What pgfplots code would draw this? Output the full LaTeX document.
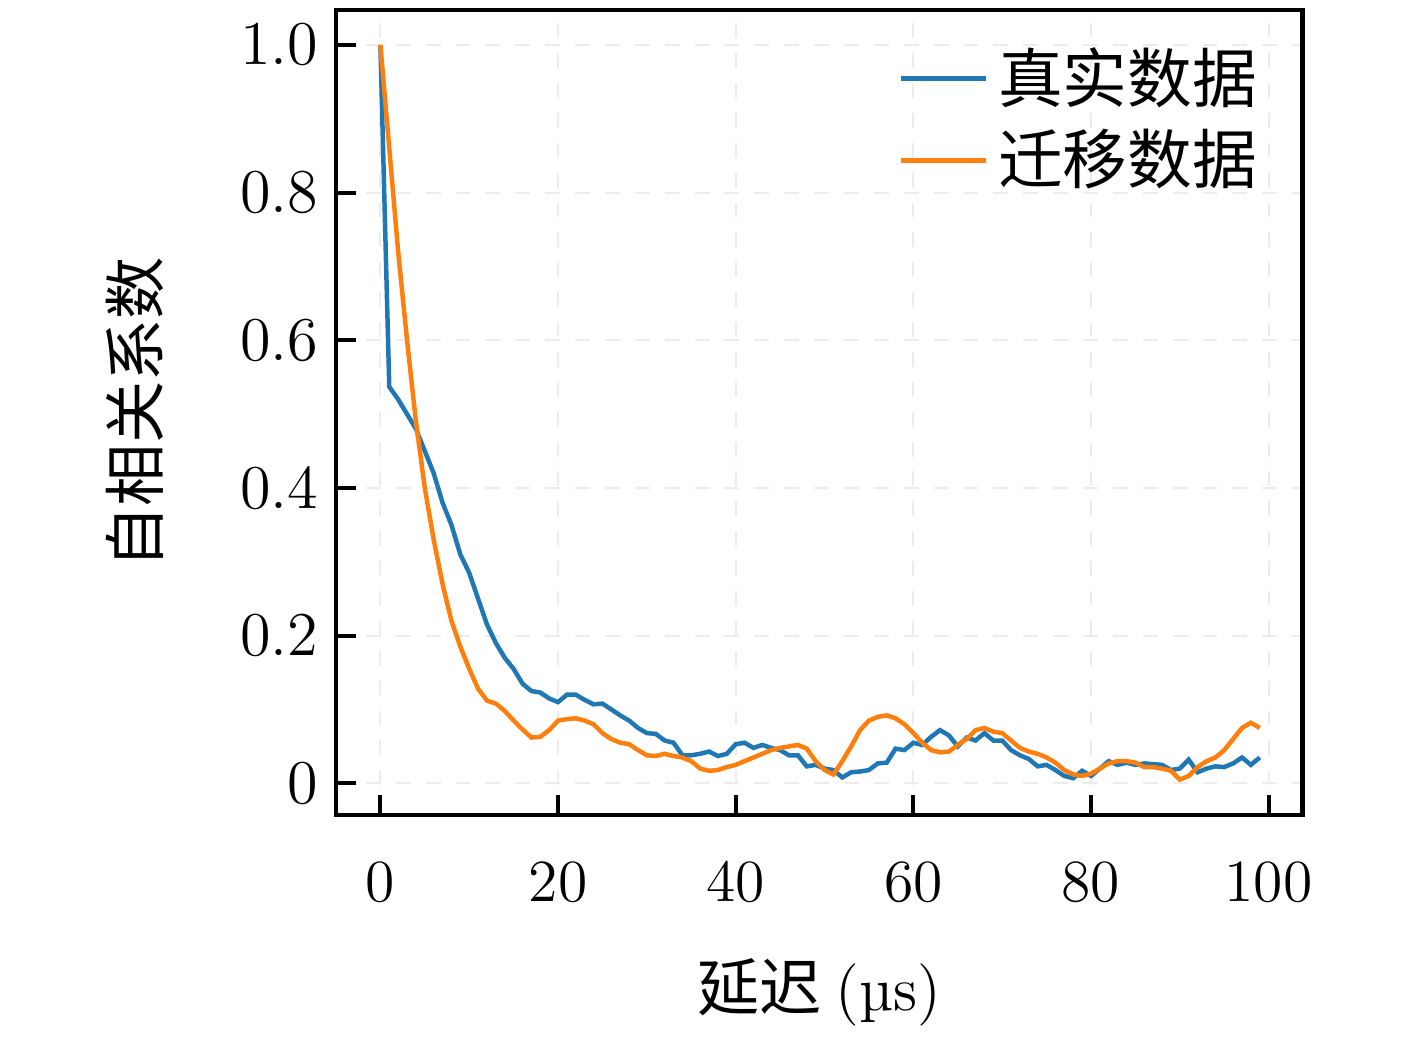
\documentclass[border=0pt]{standalone}
\usepackage{pgfplots}
\pgfplotsset{compat=1.18}
\usepackage{fontspec}
\newfontfamily\cjk{Noto Sans CJK SC}
\definecolor{tb}{HTML}{1F77B4}
\definecolor{to}{HTML}{FF7F0E}
\begin{document}
\begin{tikzpicture}
\useasboundingbox (0,0) rectangle (10cm,7.332cm);
\begin{axis}[
 at={(2.371cm,1.580cm)}, anchor=south west,
 scale only axis, width=6.82cm, height=5.68cm,
 xmin=-5, xmax=103.8, ymin=-0.043, ymax=1.047,
 xtick={0,20,...,100}, ytick={0,0.2,0.4,0.6,0.8,1.0},
 yticklabels={0,0.2,0.4,0.6,0.8,1.0},
 tick align=inside, major tick length=4pt, tick style={black, line width=0.8pt},
 axis line style={line width=0.9pt},
 xtick pos=bottom, ytick pos=left,
 grid=major, grid style={dashed, gray!15, line width=0.4pt},
 ticklabel style={font=\fontsize{12.5}{15}\selectfont},
 xticklabel style={yshift=-6pt},
 xlabel={\cjk 延迟 \rmfamily(µs)}, ylabel={\cjk 自相关系数},
 xlabel style={at={(0.5,-0.22)}, anchor=center},
 ylabel style={at={(-0.208,0.5)}, anchor=center},
 label style={font=\fontsize{12.5}{15}\selectfont},
 legend style={draw=none, fill=none, at={(0.98,0.98)}, anchor=north east, font=\cjk\fontsize{13}{16}\selectfont},
 legend cell align=left,
]
\addplot[tb, line width=0.9pt] coordinates {(0,1.0)(1,0.537)(2,0.52)(3,0.50)(4,0.48)(5,0.45)(6,0.42)(7,0.38)(8,0.35)(9,0.31)(10,0.285)(11,0.25)(12,0.215)(13,0.19)(14,0.17)(15,0.155)(16,0.135)(17,0.125)(18,0.123)(19,0.115)(20,0.11)(21,0.12)(22,0.12)(23,0.113)(24,0.107)(25,0.108)(26,0.1)(27,0.092)(28,0.085)(29,0.075)(30,0.068)(31,0.067)(32,0.058)(33,0.055)(34,0.038)(35,0.038)(36,0.04)(37,0.043)(38,0.037)(39,0.04)(40,0.053)(41,0.055)(42,0.048)(43,0.052)(44,0.048)(45,0.045)(46,0.038)(47,0.038)(48,0.023)(49,0.025)(50,0.02)(51,0.018)(52,0.008)(53,0.015)(54,0.016)(55,0.018)(56,0.027)(57,0.028)(58,0.047)(59,0.045)(60,0.055)(61,0.052)(62,0.063)(63,0.072)(64,0.065)(65,0.05)(66,0.062)(67,0.058)(68,0.068)(69,0.058)(70,0.058)(71,0.045)(72,0.038)(73,0.033)(74,0.023)(75,0.025)(76,0.018)(77,0.01)(78,0.007)(79,0.017)(80,0.01)(81,0.02)(82,0.03)(83,0.025)(84,0.028)(85,0.025)(86,0.027)(87,0.026)(88,0.025)(89,0.018)(90,0.02)(91,0.032)(92,0.015)(93,0.02)(94,0.023)(95,0.022)(96,0.027)(97,0.035)(98,0.025)(99,0.035)};
\addlegendentry{真实数据}
\addplot[to, line width=0.9pt] coordinates {(0,1.0)(1,0.86)(2,0.72)(3,0.6)(4,0.49)(5,0.4)(6,0.33)(7,0.27)(8,0.22)(9,0.185)(10,0.155)(11,0.128)(12,0.112)(13,0.108)(14,0.098)(15,0.085)(16,0.073)(17,0.062)(18,0.063)(19,0.072)(20,0.085)(21,0.087)(22,0.088)(23,0.085)(24,0.08)(25,0.068)(26,0.06)(27,0.055)(28,0.053)(29,0.045)(30,0.038)(31,0.037)(32,0.04)(33,0.037)(34,0.035)(35,0.03)(36,0.02)(37,0.017)(38,0.018)(39,0.022)(40,0.025)(41,0.03)(42,0.035)(43,0.04)(44,0.045)(45,0.048)(46,0.05)(47,0.052)(48,0.047)(49,0.03)(50,0.018)(51,0.012)(52,0.03)(53,0.05)(54,0.072)(55,0.085)(56,0.09)(57,0.092)(58,0.088)(59,0.08)(60,0.068)(61,0.055)(62,0.045)(63,0.042)(64,0.043)(65,0.052)(66,0.06)(67,0.072)(68,0.075)(69,0.07)(70,0.068)(71,0.058)(72,0.048)(73,0.043)(74,0.04)(75,0.035)(76,0.028)(77,0.018)(78,0.012)(79,0.01)(80,0.013)(81,0.02)(82,0.027)(83,0.03)(84,0.03)(85,0.028)(86,0.022)(87,0.022)(88,0.02)(89,0.017)(90,0.005)(91,0.01)(92,0.022)(93,0.03)(94,0.035)(95,0.045)(96,0.06)(97,0.075)(98,0.082)(99,0.075)};
\addlegendentry{迁移数据}
\end{axis}
\end{tikzpicture}
\end{document}
